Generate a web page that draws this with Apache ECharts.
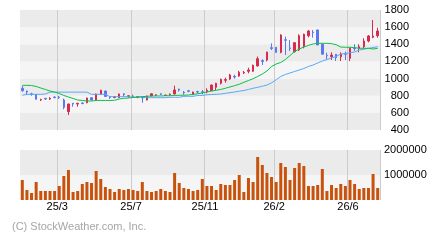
<!DOCTYPE html>
<html>
<head>
<meta charset="utf-8">
<script src="https://cdn.jsdelivr.net/npm/echarts@6/dist/echarts.min.js"></script>
<style>
  html, body { margin: 0; padding: 0; background: #fff; }
  #chart { width: 440px; height: 240px; }
</style>
</head>
<body>
<div id="chart"></div>
<script>
// weekly candles: [open, close, low, high]
const candles = [
  [886, 858, 847, 913], [855, 843, 808, 858], [822, 815, 800, 835], [816, 760, 755, 820],
  [750, 755, 738, 765], [770, 762, 750, 770], [762, 770, 750, 782], [785, 778, 770, 793],
  [785, 780, 762, 797], [750, 665, 642, 765], [614, 703, 575, 708], [712, 703, 672, 714],
  [703, 712, 672, 714], [715, 710, 700, 723], [718, 773, 712, 778], [777, 750, 745, 785],
  [750, 820, 745, 825], [820, 863, 815, 870], [855, 790, 785, 858], [788, 780, 762, 797],
  [780, 786, 770, 797], [777, 820, 773, 825], [823, 812, 790, 826], [790, 800, 777, 802],
  [797, 790, 773, 812], [782, 788, 770, 797], [790, 775, 718, 792], [750, 797, 745, 800],
  [797, 823, 793, 826], [805, 810, 797, 816], [823, 816, 805, 826], [803, 808, 797, 812],
  [812, 818, 805, 826], [820, 867, 815, 917], [878, 866, 847, 880], [840, 833, 812, 855],
  [857, 852, 840, 867], [812, 843, 808, 847], [848, 842, 828, 858], [845, 840, 816, 867],
  [847, 863, 828, 886], [858, 925, 855, 930], [898, 945, 867, 950], [945, 991, 930, 1000],
  [980, 988, 952, 1010], [995, 1042, 985, 1055], [1025, 1018, 998, 1045], [1030, 1073, 1020, 1090],
  [1065, 1072, 1053, 1088], [1085, 1100, 1061, 1127], [1085, 1155, 1080, 1163], [1147, 1232, 1140, 1258],
  [1210, 1200, 1158, 1225], [1217, 1310, 1200, 1312], [1360, 1352, 1333, 1411], [1364, 1306, 1300, 1366],
  [1306, 1508, 1295, 1516], [1453, 1447, 1275, 1489], [1358, 1350, 1322, 1450], [1314, 1419, 1303, 1422],
  [1333, 1500, 1322, 1516], [1372, 1516, 1353, 1524], [1500, 1555, 1481, 1567], [1542, 1536, 1477, 1567],
  [1567, 1392, 1390, 1570], [1400, 1285, 1280, 1410], [1270, 1265, 1225, 1302], [1255, 1275, 1217, 1306],
  [1283, 1244, 1205, 1285], [1255, 1283, 1205, 1306], [1290, 1285, 1217, 1314], [1236, 1353, 1205, 1360],
  [1358, 1350, 1322, 1400], [1353, 1372, 1306, 1400], [1372, 1438, 1353, 1470], [1438, 1497, 1423, 1508],
  [1482, 1497, 1470, 1683], [1500, 1555, 1477, 1593]
]

const volume = [
  800000, 400000, 280000, 720000, 360000, 360000, 360000, 360000, 560000, 960000,
  1200000, 320000, 360000, 640000, 720000, 680000, 1160000, 840000, 520000, 440000,
  320000, 440000, 400000, 440000, 400000, 360000, 720000, 360000, 320000, 360000,
  440000, 360000, 320000, 1080000, 680000, 480000, 440000, 360000, 400000, 840000,
  560000, 560000, 400000, 640000, 600000, 600000, 800000, 1000000, 320000, 880000,
  720000, 1720000, 1400000, 1080000, 920000, 720000, 1480000, 1320000, 800000, 1280000,
  1480000, 1360000, 560000, 560000, 600000, 1240000, 360000, 600000, 480000, 640000,
  560000, 800000, 640000, 440000, 480000, 480000, 1040000, 480000
]

// short moving average (green)
const maShort = [
  921, 921, 919, 908, 890, 873, 855, 843, 826, 803,
  785, 768, 750, 745, 738, 738, 745, 745, 745, 745,
  747, 762, 770, 773, 780, 785, 789, 793, 797, 797,
  797, 799, 800, 803, 805, 806, 808, 816, 822, 832,
  843, 855, 864, 873, 887, 902, 917, 934, 956, 977,
  998, 1024, 1053, 1088, 1141, 1170, 1188, 1222, 1269, 1316,
  1345, 1368, 1388, 1403, 1411, 1411, 1411, 1407, 1395, 1368,
  1365, 1365, 1360, 1354, 1353, 1353, 1345, 1353
]

// long moving average (blue)
const maLong = [
  805, 816, 816, 816, 816, 820, 842, 842, 842, 842,
  842, 842, 842, 842, 842, 816, 816, 816, 816, 789,
  789, 789, 789, 789, 782, 782, 782, 777, 777, 777,
  777, 777, 782, 782, 782, 793, 793, 793, 803, 803,
  811, 814, 816, 820, 828, 835, 843, 853, 861, 873,
  887, 898, 910, 925, 950, 985, 1025, 1048, 1065, 1083,
  1100, 1118, 1141, 1158, 1182, 1205, 1222, 1240, 1258, 1287,
  1292, 1302, 1310, 1333, 1342, 1353, 1362, 1372
]

const tickIdx = [8, 24, 40, 55, 71]
const tickLabels = ['25/3', '25/7', '25/11', '26/2', '26/6']

const weeks = volume.map((v, i) => i)

const UP = '#d62a50'
const DOWN = '#5c78f0'
const FONT = 'Liberation Sans, Arial, sans-serif'

const chart = echarts.init(document.getElementById('chart'), null, { renderer: 'canvas' })

const xBase = {
  type: 'category',
  data: weeks,
  boundaryGap: true,
  axisLine: { show: false },
  axisTick: { show: false },
  splitLine: {
    show: true,
    interval: (index) => tickIdx.indexOf(index) >= 0,
    lineStyle: { color: '#cccccc', width: 1 }
  }
}

chart.setOption({
  animation: false,
  textStyle: { fontFamily: FONT },
  grid: [
    { left: 20, right: 60, top: 10, height: 120 },
    { left: 20, right: 60, top: 150, height: 50 }
  ],
  xAxis: [
    Object.assign({}, xBase, { gridIndex: 0, axisLabel: { show: false } }),
    Object.assign({}, xBase, {
      gridIndex: 1,
      axisLabel: {
        show: true,
        interval: (index) => tickIdx.indexOf(index) >= 0,
        formatter: (value, index) => {
          const k = tickIdx.indexOf(index)
          return k >= 0 ? tickLabels[k] : ''
        },
        color: '#000',
        fontSize: 11,
        fontFamily: FONT,
        margin: 1,
        padding: [0, 4, 0, 0]
      }
    })
  ],
  yAxis: [
    {
      gridIndex: 0,
      type: 'value',
      position: 'right',
      min: 400,
      max: 1800,
      interval: 200,
      axisLine: { show: false },
      axisTick: { show: false },
      splitLine: { show: false },
      splitArea: { show: true, areaStyle: { color: ['#ebebeb', '#f5f5f5'] } },
      axisLabel: {
        color: '#000', fontSize: 11, fontFamily: FONT, align: 'right', margin: 29,
        formatter: (v) => String(v)
      }
    },
    {
      gridIndex: 1,
      type: 'value',
      position: 'right',
      min: 0,
      max: 2000000,
      interval: 1000000,
      axisLine: { show: false },
      axisTick: { show: false },
      splitLine: { show: false },
      splitArea: { show: true, areaStyle: { color: ['#f5f5f5', '#ebebeb'] } },
      axisLabel: {
        color: '#000', fontSize: 11, fontFamily: FONT, margin: 4, showMinLabel: false,
        formatter: (v) => String(v)
      }
    }
  ],
  series: [
    {
      name: 'MA long',
      type: 'line',
      xAxisIndex: 0,
      yAxisIndex: 0,
      data: maLong,
      showSymbol: false,
      lineStyle: { color: '#5aa8f8', width: 1 }
    },
    {
      name: 'MA short',
      type: 'line',
      xAxisIndex: 0,
      yAxisIndex: 0,
      data: maShort,
      showSymbol: false,
      lineStyle: { color: '#0cc046', width: 1 }
    },
    {
      name: 'price',
      type: 'candlestick',
      xAxisIndex: 0,
      yAxisIndex: 0,
      data: candles,
      barWidth: 2,
      itemStyle: {
        color: UP,
        color0: DOWN,
        borderColor: UP,
        borderColor0: DOWN,
        borderWidth: 1
      }
    },
    {
      name: 'volume',
      type: 'bar',
      xAxisIndex: 1,
      yAxisIndex: 1,
      data: volume,
      barWidth: 3,
      itemStyle: { color: '#c8520c' }
    }
  ],
  graphic: [
    {
      type: 'text',
      left: 12,
      top: 221,
      style: { text: '(C) StockWeather.com, Inc.', fill: '#a6a6a6', font: '11px ' + FONT }
    }
  ]
})
</script>
</body>
</html>
